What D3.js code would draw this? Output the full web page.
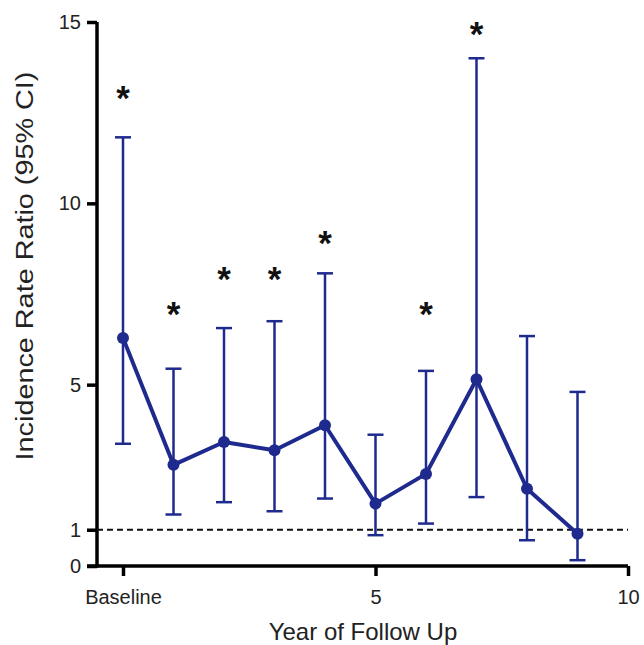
<!DOCTYPE html>
<html>
<head>
<meta charset="utf-8">
<script src="https://cdn.jsdelivr.net/npm/d3@7"></script>
<style>
  body { margin: 0; background: #fff; }
  text { font-family: "Liberation Sans", Arial, sans-serif; }
</style>
</head>
<body>
<div id="chart"></div>
<script>
// years of follow up (0 = baseline)
var years = [0, 1, 2, 3, 4, 5, 6, 7, 8, 9];
var irr   = [6.29, 2.79, 3.42, 3.19, 3.88, 1.72, 2.54, 5.15, 2.13, 0.89];
var lower = [3.37, 1.42, 1.76, 1.51, 1.86, 0.85, 1.17, 1.90, 0.71, 0.16];
var upper = [11.82, 5.44, 6.56, 6.75, 8.07, 3.62, 5.38, 14.0, 6.34, 4.80];
// significance markers: year and height (in IRR units) of the star
var starYears  = [0, 1, 2, 3, 4, 6, 7];
var starLevels = [13.1, 7.15, 8.12, 8.12, 9.1, 7.15, 14.85];
var yTicks = [0, 1, 5, 10, 15];
var xTicks = [0, 5, 10];
var xTickLabels = ["Baseline", "5", "10"];

var blue = "#1f2a8e";

var svg = d3.select("#chart")
  .append("svg")
    .attr("width", 644)
    .attr("height", 645);

var x = d3.scaleLinear().domain([0, 10]).range([123, 628]);
var y = d3.scaleLinear().domain([0, 15]).range([566, 22]);

// y axis
var yAxis = svg.append("g")
  .attr("transform", "translate(97,0)")
  .call(d3.axisLeft(y).tickValues(yTicks).tickSize(10).tickPadding(6));
yAxis.select(".domain")
  .attr("d", "M0," + y(15) + "V" + (y(0) + 1.5))
  .attr("stroke", "#000")
  .attr("stroke-width", 3.5);
yAxis.selectAll(".tick line").attr("stroke", "#000").attr("stroke-width", 3.5);
yAxis.selectAll(".tick text")
  .attr("fill", "#222")
  .style("font-size", "20px");

// x axis
var xAxis = svg.append("g")
  .attr("transform", "translate(0," + y(0) + ")")
  .call(d3.axisBottom(x).tickValues(xTicks)
    .tickFormat(function(d, i) { return xTickLabels[i]; })
    .tickSize(10).tickPadding(14));
xAxis.select(".domain")
  .attr("d", "M87,0H" + x(10))
  .attr("stroke", "#000")
  .attr("stroke-width", 3.5);
xAxis.selectAll(".tick line").attr("stroke", "#000").attr("stroke-width", 3.5);
xAxis.selectAll(".tick text")
  .attr("fill", "#222")
  .style("font-size", "20px");

// reference line at 1
svg.append("line")
  .attr("x1", 97)
  .attr("x2", x(10))
  .attr("y1", y(1))
  .attr("y2", y(1))
  .attr("stroke", "#111")
  .attr("stroke-width", 2)
  .attr("stroke-dasharray", "6,4");

// error bars
var bars = svg.append("g");
years.forEach(function(d, i) {
  bars.append("line")
    .attr("x1", x(d)).attr("x2", x(d))
    .attr("y1", y(lower[i])).attr("y2", y(upper[i]))
    .attr("stroke", blue)
    .attr("stroke-width", 2.5);
  [lower[i], upper[i]].forEach(function(v) {
    bars.append("line")
      .attr("x1", x(d) - 8).attr("x2", x(d) + 8)
      .attr("y1", y(v)).attr("y2", y(v))
      .attr("stroke", blue)
      .attr("stroke-width", 2.5);
  });
});

// connecting line
var line = d3.line()
  .x(function(d) { return x(d); })
  .y(function(d, i) { return y(irr[i]); });
svg.append("path")
  .datum(years)
  .attr("d", line)
  .attr("fill", "none")
  .attr("stroke", blue)
  .attr("stroke-width", 4)
  .attr("stroke-linejoin", "round");

svg.selectAll(".pt")
  .data(years)
  .enter().append("circle")
    .attr("class", "pt")
    .attr("cx", function(d) { return x(d); })
    .attr("cy", function(d, i) { return y(irr[i]); })
    .attr("r", 6)
    .attr("fill", blue);

// stars
svg.selectAll(".star")
  .data(starYears)
  .enter().append("text")
    .attr("class", "star")
    .attr("x", function(d) { return x(d); })
    .attr("y", function(d, i) { return y(starLevels[i]) + 19; })
    .attr("text-anchor", "middle")
    .attr("fill", "#111")
    .style("font-size", "35px")
    .style("font-weight", "bold")
    .text("*");

// axis titles
svg.append("text")
  .attr("x", 363)
  .attr("y", 640)
  .attr("text-anchor", "middle")
  .attr("fill", "#222")
  .style("font-size", "24px")
  .text("Year of Follow Up");

svg.append("text")
  .attr("transform", "translate(33,266) rotate(-90) scale(1.2,1)")
  .attr("text-anchor", "middle")
  .attr("fill", "#222")
  .style("font-size", "24px")
  .text("Incidence Rate Ratio (95% CI)");
</script>
</body>
</html>
